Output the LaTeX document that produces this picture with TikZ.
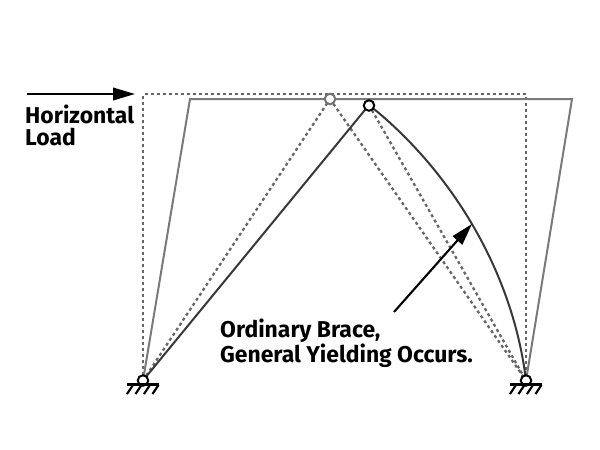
\documentclass[tikz,border=0pt]{standalone}
\usepackage{fontspec}
\setmainfont{Fira Sans}
\usetikzlibrary{arrows.meta}
\tikzset{
 grayline/.style={draw=black!52,line width=2pt},
 dotline/.style={draw=black!60,line width=2.3pt,dash pattern=on 3pt off 3pt},
 blackline/.style={draw=black!78,line width=2pt},
 pin/.style={circle,draw=#1,fill=white,line width=2pt,minimum size=10.5pt,inner sep=0pt},
 pointer/.style={draw=black,line width=2.1pt,-{Triangle[length=22pt,width=12.5pt]}},
 label/.style={font=\fontsize{22.9}{21.5}\selectfont\bfseries,align=left,anchor=north west,inner sep=0pt},
 ground/.style={draw=black,line width=2.2pt},
}
\begin{document}
\begin{tikzpicture}[x=1pt,y=-1pt]
\useasboundingbox (0,0) rectangle (600,450);
\coordinate (A) at (143,380.5);
\coordinate (B) at (526,380.5);
\coordinate (C0) at (143,94);
\coordinate (D0) at (526,94);
\coordinate (C1) at (190,99);
\coordinate (D1) at (572,99);
% dotted original frame
\draw[dotline] (A) -- (C0) -- (D0) -- (B);
\draw[dotline] (A) -- (330,99);
\draw[dotline] (330,99) -- (B);
\draw[dotline] (369,105) -- (B);
% deformed frame
\draw[grayline] (A) -- (C1) -- (D1) -- (B);
% brace
\draw[blackline] (A) -- (369,105);
\draw[blackline] (369,105) .. controls (445,165) and (512,265) .. (B);
% pins
\node[pin=black!55] (P1) at (330,99) {};
\node[pin=black] (P2) at (369,105.5) {};
\node[pin=black] (PA) at (A) {};
\node[pin=black] (PB) at (B) {};
% grounds
\draw[ground] (127,384.5) -- (159,384.5);
\foreach \x in {133,141.5,150,158.5} \draw[ground] (\x,385) -- (\x-6,394);
\draw[ground] (510,384.5) -- (542,384.5);
\foreach \x in {516,524.5,533,541.5} \draw[ground] (\x,385) -- (\x-6,394);
% load
\coordinate (L0) at (27,94);
\coordinate (L1) at (135,94);
\draw[pointer] (L0) -- (L1);
\node[label] (T1) at (25,105) {Horizontal\\Load};
\coordinate (R0) at (394,312);
\coordinate (R1) at (472,224);
\draw[pointer] (R0) -- (R1);
\node[label] (T2) at (220,319) {Ordinary Brace,\\General Yielding Occurs.};
\end{tikzpicture}
\end{document}
